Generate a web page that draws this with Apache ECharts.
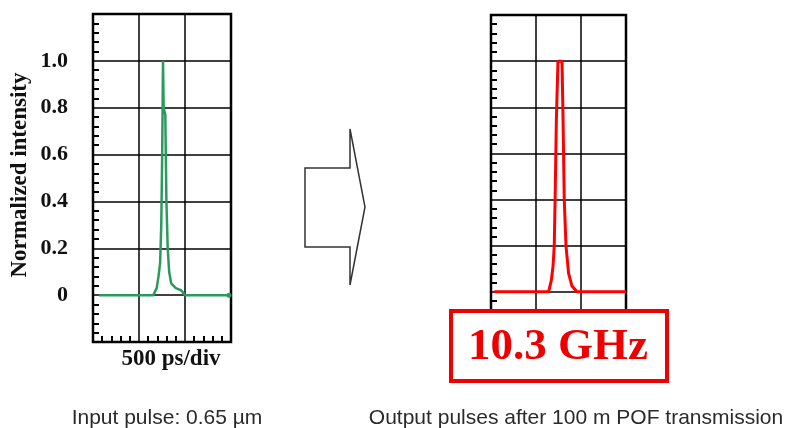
<!DOCTYPE html>
<html>
<head>
<meta charset="utf-8">
<script src="https://cdn.jsdelivr.net/npm/echarts/dist/echarts.min.js"></script>
<style>
  html, body { margin: 0; padding: 0; background: #fff; }
  #chart { width: 793px; height: 428px; }
</style>
</head>
<body>
<div id="chart"></div>
<script>
// time in ps (500 ps/div), intensity normalized
const inputPulse = [
  [65, 0], [655, 0], [692, 0.03], [712, 0.08], [730, 0.14], [742, 0.3], [752, 0.6],
  [761, 1.0], [768, 0.8], [786, 0.77], [798, 0.4], [812, 0.2], [828, 0.1], [850, 0.05],
  [900, 0.03], [960, 0.02], [1000, 0], [1478, 0]
];
const outputPulse = [
  [37, 0], [640, 0], [670, 0.05], [689, 0.11], [703, 0.2], [714, 0.44], [726, 0.74],
  [744, 1.0], [789, 1.0], [800, 0.76], [814, 0.4], [833, 0.2], [862, 0.08], [900, 0.025],
  [956, 0], [1500, 0]
];
const timeRange = [0, 1500];
const intensityRange = [-0.2, 1.2];
const shownLabels = [0, 0.2, 0.4, 0.6, 0.8, 1.0];
const bandwidthLabel = '10.3 GHz';

const chart = echarts.init(document.getElementById('chart'));

const serif = '"Liberation Serif", "DejaVu Serif", serif';
const sans = '"Liberation Sans", Arial, sans-serif';

function xAxisFor(gridIndex) {
  return {
    type: 'value', gridIndex, min: timeRange[0], max: timeRange[1], interval: 500,
    position: 'bottom',
    axisLine: { show: false, onZero: false },
    axisTick: { show: false, inside: true },
    minorTick: { show: true, splitNumber: 5, length: 6, lineStyle: { color: '#000', width: 2 } },
    axisLabel: { show: false },
    splitLine: { show: true, lineStyle: { color: '#000', width: 1.5 } },
    minorSplitLine: { show: false }
  };
}

function yAxisFor(gridIndex, withLabels) {
  return {
    type: 'value', gridIndex, min: intensityRange[0], max: intensityRange[1], interval: 0.2,
    position: 'left',
    axisLine: { show: false, onZero: false },
    axisTick: { show: false, inside: true },
    minorTick: { show: true, splitNumber: 5, length: 6, lineStyle: { color: '#000', width: 2 } },
    axisLabel: {
      show: withLabels, margin: 25, color: '#111',
      fontFamily: serif, fontWeight: 'bold', fontSize: 22,
      formatter: (v) => {
        const hit = shownLabels.find((s) => Math.abs(s - v) < 1e-6);
        if (hit === undefined) return '';
        return hit === 0 ? '0' : hit.toFixed(1);
      }
    },
    splitLine: { show: true, lineStyle: { color: '#000', width: 1.5 } }
  };
}

const option = {
  backgroundColor: '#fff',
  animation: false,
  grid: [
    { left: 93, top: 14, width: 138, height: 328, show: true, borderColor: '#000', borderWidth: 2.5, backgroundColor: 'transparent' },
    { left: 491, top: 15, width: 135, height: 323, show: true, borderColor: '#000', borderWidth: 2.5, backgroundColor: 'transparent' }
  ],
  xAxis: [xAxisFor(0), xAxisFor(1)],
  yAxis: [yAxisFor(0, true), yAxisFor(1, false)],
  series: [
    {
      type: 'line', xAxisIndex: 0, yAxisIndex: 0, symbol: 'none',
      data: inputPulse.map((p, i) => i === inputPulse.length - 1
        ? { value: p, symbol: 'circle', symbolSize: 5 } : p),
      lineStyle: { color: '#2b9a5f', width: 2.5 },
      itemStyle: { color: '#2b9a5f' },
      z: 5
    },
    {
      type: 'line', xAxisIndex: 1, yAxisIndex: 1, symbol: 'none',
      data: outputPulse,
      lineStyle: { color: '#ff0000', width: 3 },
      z: 5
    }
  ],
  graphic: [
    {
      type: 'text', x: 20, y: 175, rotation: Math.PI / 2,
      style: { text: 'Normalized intensity', font: 'bold 23px ' + serif, fill: '#111', align: 'center', verticalAlign: 'middle' }
    },
    {
      type: 'text', x: 171, y: 359,
      style: { text: '500 ps/div', font: 'bold 23px ' + serif, fill: '#111', align: 'center', verticalAlign: 'middle' }
    },
    {
      type: 'polygon', z: 50,
      shape: { points: [[305, 168], [350, 168], [350, 129], [365, 207], [350, 285], [350, 247], [305, 247]] },
      style: { fill: '#fff', stroke: '#333', lineWidth: 1.5 }
    },
    {
      type: 'rect', z: 100,
      shape: { x: 451, y: 311, width: 216, height: 70 },
      style: { fill: '#fff', stroke: '#ee0000', lineWidth: 4 }
    },
    {
      type: 'text', z: 101, x: 558, y: 347,
      style: { text: bandwidthLabel, font: 'bold 45px ' + serif, fill: '#ee0000', align: 'center', verticalAlign: 'middle' }
    },
    {
      type: 'text', x: 167, y: 418,
      style: { text: 'Input pulse: 0.65 \u00b5m', font: '21px ' + sans, fill: '#2a2a2a', align: 'center', verticalAlign: 'middle' }
    },
    {
      type: 'text', x: 576, y: 418,
      style: { text: 'Output pulses after 100 m POF transmission', font: '21px ' + sans, fill: '#2a2a2a', align: 'center', verticalAlign: 'middle' }
    }
  ]
};

chart.setOption(option);
window.addEventListener('resize', () => chart.resize());
</script>
</body>
</html>
